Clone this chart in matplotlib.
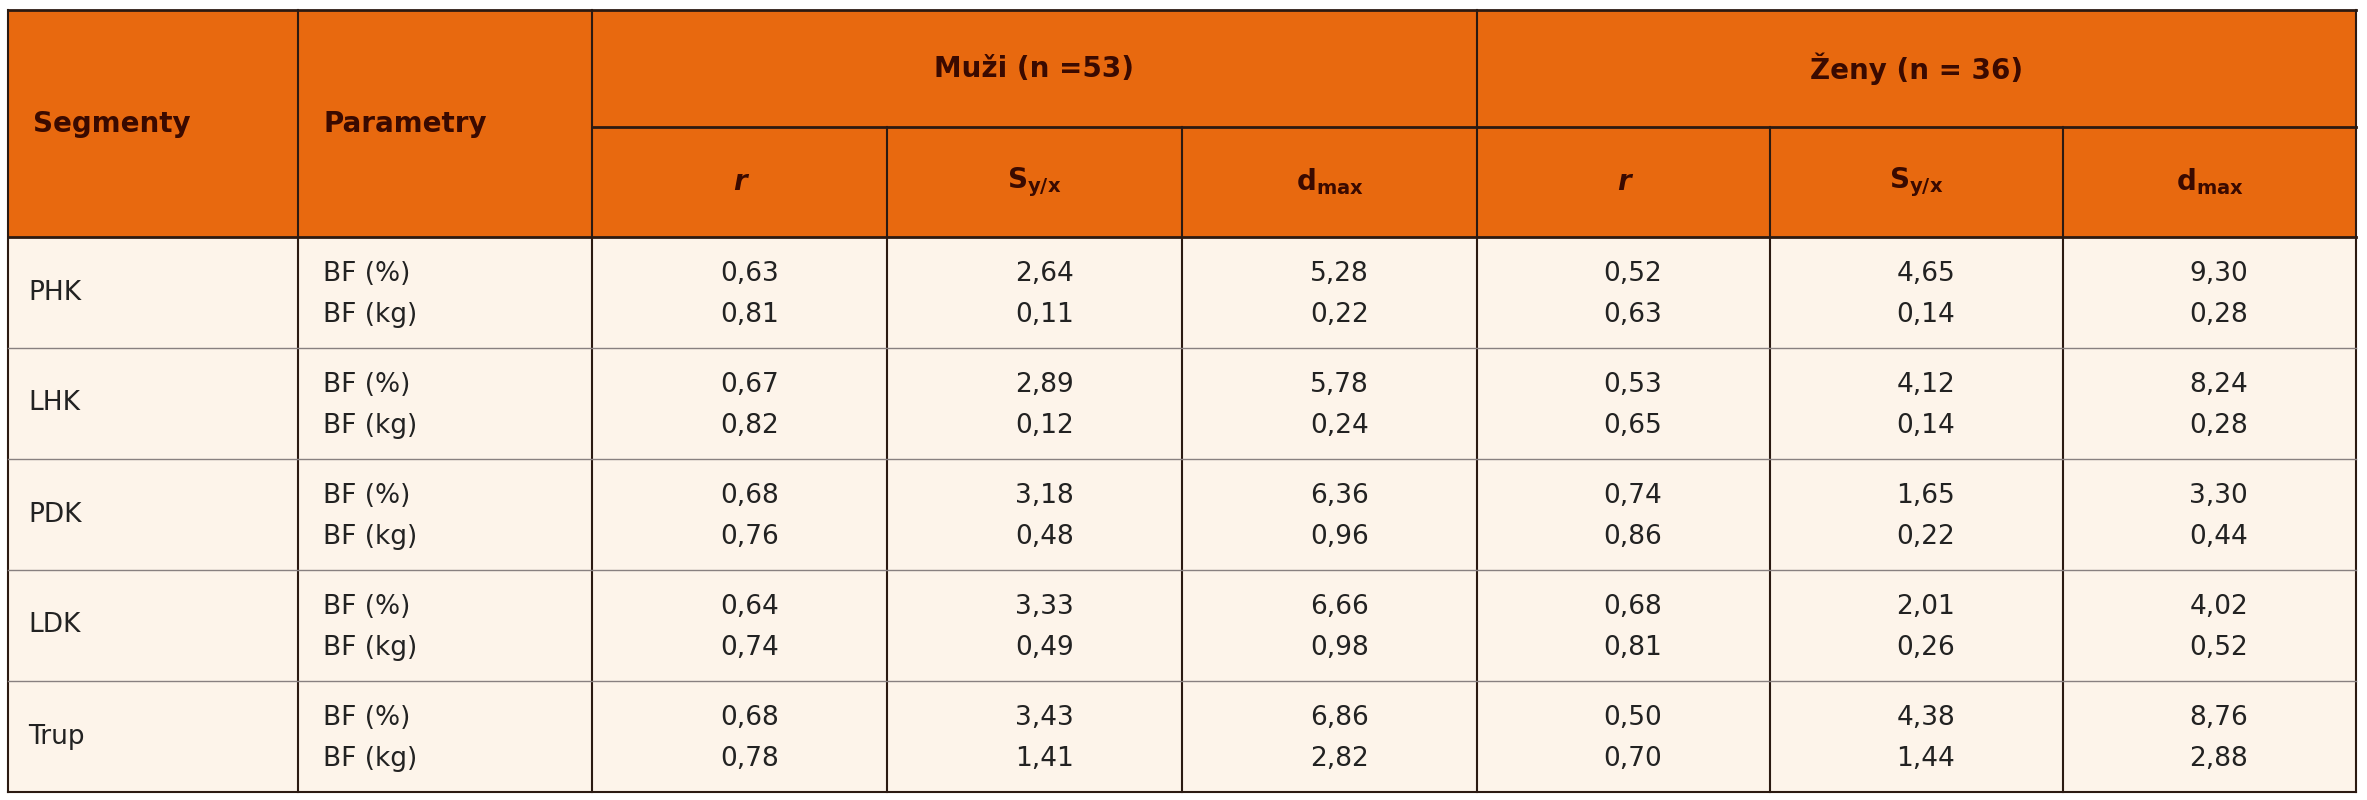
import matplotlib.pyplot as plt
from matplotlib.patches import Rectangle

'''Table Data'''
segments = ['PHK', 'LHK', 'PDK', 'LDK', 'Trup']
params = ['BF (%)', 'BF (kg)']
men_r = [['0,63', '0,81'], ['0,67', '0,82'], ['0,68', '0,76'], ['0,64', '0,74'], ['0,68', '0,78']]
men_s = [['2,64', '0,11'], ['2,89', '0,12'], ['3,18', '0,48'], ['3,33', '0,49'], ['3,43', '1,41']]
men_d = [['5,28', '0,22'], ['5,78', '0,24'], ['6,36', '0,96'], ['6,66', '0,98'], ['6,86', '2,82']]
wom_r = [['0,52', '0,63'], ['0,53', '0,65'], ['0,74', '0,86'], ['0,68', '0,81'], ['0,50', '0,70']]
wom_s = [['4,65', '0,14'], ['4,12', '0,14'], ['1,65', '0,22'], ['2,01', '0,26'], ['4,38', '1,44']]
wom_d = [['9,30', '0,28'], ['8,24', '0,28'], ['3,30', '0,44'], ['4,02', '0,52'], ['8,76', '2,88']]

'''Layout (pixels)'''
cols = [8, 298, 592, 887, 1182, 1477, 1770, 2063, 2356]
top, mid, hbot = 10, 127, 237
row_h = (792 - hbot) / 5
orange = '#E8690F'
cream = '#FDF4EA'
hdr_col = '#3A0A00'
line_col = '#2B1A12'
plt.rcParams['font.family'] = ['Liberation Sans Narrow', 'DejaVu Sans']

fig = plt.figure(figsize=(23.67, 8), dpi=100)
ax = fig.add_axes([0, 0, 1, 1])
ax.set_xlim(0, 2367)
ax.set_ylim(800, 0)
ax.axis('off')

ax.add_patch(Rectangle((cols[0], top), cols[-1] - cols[0], hbot - top, color=orange, lw=0))
ax.add_patch(Rectangle((cols[0], hbot), cols[-1] - cols[0], 792 - hbot, color=cream, lw=0))

'''Grid lines'''
for x in cols[:3] + [cols[5], cols[8]]:
    ax.plot([x, x], [top, 792], color=line_col, lw=1.5)
for x in [cols[3], cols[4], cols[6], cols[7]]:
    ax.plot([x, x], [mid, 792], color=line_col, lw=1.5)
ax.plot([cols[0], cols[-1]], [top, top], color=line_col, lw=2)
ax.plot([cols[0], cols[-1]], [hbot, hbot], color=line_col, lw=2)
ax.plot([cols[0], cols[-1]], [792, 792], color=line_col, lw=1.5)
ax.plot([cols[2], cols[-1]], [mid, mid], color=line_col, lw=2)

'''Header'''
hk = dict(color=hdr_col, fontsize=20, fontweight='bold', ha='center', va='center')
ax.text(cols[0] + 25, (top + hbot) / 2, 'Segmenty', **{**hk, 'ha': 'left'})
ax.text(cols[1] + 25, (top + hbot) / 2, 'Parametry', **{**hk, 'ha': 'left'})
ax.text((cols[2] + cols[5]) / 2, (top + mid) / 2, 'Muži (n =53)', **hk)
ax.text((cols[5] + cols[8]) / 2, (top + mid) / 2, 'Ženy (n = 36)', **hk)
subs = ['r', r'$\mathbf{S_{y/x}}$', r'$\mathbf{d_{max}}$']
for g in range(2):
    for k, s in enumerate(subs):
        c = 2 + 3 * g + k
        ax.text((cols[c] + cols[c + 1]) / 2, (mid + hbot) / 2, s,
                fontstyle='italic' if k == 0 else 'normal', **hk)

'''Body'''
bk = dict(color='#222222', fontsize=19, va='center')
data = [men_r, men_s, men_d, wom_r, wom_s, wom_d]
for i, seg in enumerate(segments):
    y0 = hbot + i * row_h
    ya, yb = y0 + row_h * 0.33, y0 + row_h * 0.7
    ax.text(cols[0] + 20, y0 + row_h / 2, seg, ha='left', **bk)
    for j, p in enumerate(params):
        ax.text(cols[1] + 25, [ya, yb][j], p, ha='left', **bk)
        for k, d in enumerate(data):
            ax.text(cols[2 + k + 1] - 108, [ya, yb][j], d[i][j], ha='right', **bk)
    if i > 0:
        ax.plot([cols[0], cols[-1]], [y0, y0], color='#888080', lw=1)

fig.savefig('out.png', dpi=100)
